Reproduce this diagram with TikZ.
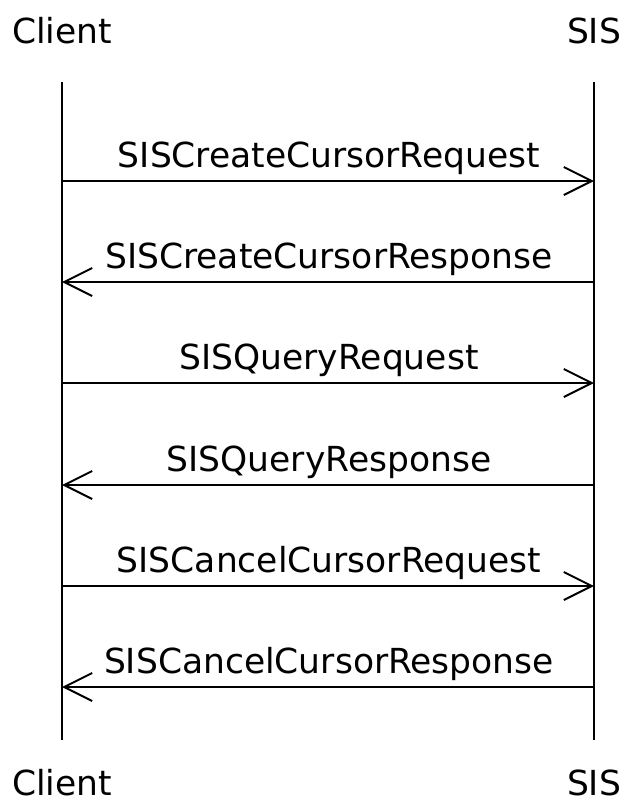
\documentclass[tikz,border=0pt]{standalone}
\usepackage{fontspec}
\setmainfont{DejaVu Sans}
\usetikzlibrary{arrows.meta}
\begin{document}
\begin{tikzpicture}[x=1pt,y=-1pt,
  actor/.style={font=\fontsize{34.5}{40}\selectfont, anchor=base, inner sep=0pt},
  msglabel/.style={font=\fontsize{34.5}{40}\selectfont, anchor=base, inner sep=0pt},
  lifeline/.style={line width=2pt},
  msg/.style={line width=2pt, -{Straight Barb[length=28pt,width=28pt,line width=2pt]}}]
\useasboundingbox (0,0) rectangle (624,801);
\node[actor] (ct) at (62,43) {Client};
\node[actor] (st) at (594,43) {SIS};
\node[actor] (cb) at (62,795) {Client};
\node[actor] (sb) at (594,795) {SIS};
\coordinate (c0) at (62,82);
\coordinate (c1) at (62,740);
\coordinate (s0) at (594,82);
\coordinate (s1) at (594,740);
\draw[lifeline] (c0) -- (c1);
\draw[lifeline] (s0) -- (s1);
\foreach \i/\y in {1/181,2/282,3/383,4/485,5/586,6/687}{
  \coordinate (cm\i) at (62,\y);
  \coordinate (sm\i) at (594,\y);
}
\draw[msg] (cm1) -- (sm1);
\draw[msg] (sm2) -- (cm2);
\draw[msg] (cm3) -- (sm3);
\draw[msg] (sm4) -- (cm4);
\draw[msg] (cm5) -- (sm5);
\draw[msg] (sm6) -- (cm6);
\node[msglabel] (l1) at (329,167) {SISCreateCursorRequest};
\node[msglabel] (l2) at (329,268) {SISCreateCursorResponse};
\node[msglabel] (l3) at (329,369) {SISQueryRequest};
\node[msglabel] (l4) at (329,471) {SISQueryResponse};
\node[msglabel] (l5) at (329,572) {SISCancelCursorRequest};
\node[msglabel] (l6) at (329,673) {SISCancelCursorResponse};
\end{tikzpicture}
\end{document}
